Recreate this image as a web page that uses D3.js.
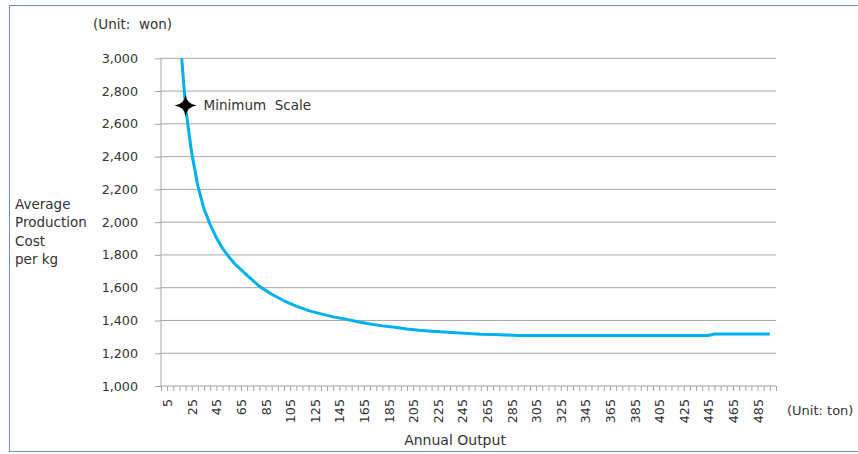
<!DOCTYPE html>
<html>
<head>
<meta charset="utf-8">
<script src="https://cdn.jsdelivr.net/npm/d3@7"></script>
<style>
  body { margin: 0; background: #fff; }
  text { font-family: "DejaVu Sans", sans-serif; fill: #333; }
  .axis path, .axis line { stroke: #a6a6a6; }
  .axis text { font-size: 12.7px; }
</style>
</head>
<body>
<div id="chart"></div>
<script>
// categories on the x axis (tons), labelled ticks and y ticks
var categories = [0,5,10,15,20,25,30,35,40,45,50,55,60,65,70,75,80,85,90,95,100,
    105,110,115,120,125,130,135,140,145,150,155,160,165,170,175,180,185,190,195,200,
    205,210,215,220,225,230,235,240,245,250,255,260,265,270,275,280,285,290,295,300,
    305,310,315,320,325,330,335,340,345,350,355,360,365,370,375,380,385,390,395,400,
    405,410,415,420,425,430,435,440,445,450,455,460,465,470,475,480,485,490,495,500];
var xLabels = [5,25,45,65,85,105,125,145,165,185,205,225,245,265,285,
    305,325,345,365,385,405,425,445,465,485];
var yTicks = [1000,1200,1400,1600,1800,2000,2200,2400,2600,2800,3000];

// average production cost per kg (won)
var outputTons = [15,20,25,30,35,40,45,50,55,60,70,80,90,100,110,120,130,140,150,
    160,170,180,190,200,210,220,230,240,250,260,270,280,290,445,450,495];
var costWon = [3170,2700,2420,2220,2080,1985,1905,1840,1790,1745,1675,1608,1560,1520,
    1488,1460,1440,1422,1408,1392,1378,1367,1358,1348,1340,1334,1330,1325,1321,1316,
    1314,1312,1308,1308,1317,1317];
var minimumScale = {ton: 20, cost: 2700};

var margin = {top: 58.3, left: 161},
    width = 615,
    height = 327.7;

var svg = d3.select("#chart").append("svg")
    .attr("width", 858)
    .attr("height", 454);

// outer frame
svg.append("rect")
    .attr("x", 9.5).attr("y", 5.5)
    .attr("width", 860).attr("height", 446)
    .attr("fill", "none")
    .attr("stroke", "#7089b8");

var g = svg.append("g")
    .attr("transform", "translate(" + margin.left + "," + margin.top + ")");

var x = d3.scalePoint()
    .domain(categories)
    .range([0, width]);

var y = d3.scaleLinear()
    .domain([1000, 3000])
    .range([height, 0]);

// gridlines
g.append("g").selectAll("line")
    .data(yTicks.slice(1))
    .enter().append("line")
    .attr("x1", 0).attr("x2", width)
    .attr("y1", function(d) { return y(d); })
    .attr("y2", function(d) { return y(d); })
    .attr("stroke", "#a6a6a6");

// y axis
g.append("g")
    .attr("class", "axis")
    .call(d3.axisLeft(y).tickValues(yTicks).tickSize(6).tickPadding(17)
        .tickFormat(d3.format(",")))
    .call(function(a) { a.select(".domain").attr("d", "M0,0V" + height); });

// x axis
var xAxis = g.append("g")
    .attr("class", "axis")
    .attr("transform", "translate(0," + height + ")")
    .call(d3.axisBottom(x).tickValues(categories).tickSize(5).tickSizeOuter(0)
        .tickFormat(function(d) { return xLabels.indexOf(d) >= 0 ? d : ""; }));

xAxis.select(".domain").attr("d", "M0,0H" + width);

xAxis.selectAll("text")
    .attr("transform", "rotate(-90)")
    .attr("x", -13)
    .attr("y", 0)
    .attr("dy", "0.35em")
    .attr("text-anchor", "end");

// clip the curve to the plot area
svg.append("clipPath").attr("id", "plot-clip")
    .append("rect")
    .attr("width", width).attr("height", height);

var line = d3.line()
    .x(function(d, i) { return x(d); })
    .y(function(d, i) { return y(costWon[i]); });

g.append("path")
    .datum(outputTons)
    .attr("clip-path", "url(#plot-clip)")
    .attr("fill", "none")
    .attr("stroke", "#00b0f0")
    .attr("stroke-width", 3)
    .attr("stroke-linejoin", "round")
    .attr("d", line);

// minimum scale marker
var mx = x(minimumScale.ton), my = y(minimumScale.cost) - 2;
g.append("path")
    .attr("transform", "translate(" + mx + "," + my + ")")
    .attr("d", "M0,-11Q1.2,-1.2 11,0Q1.2,1.2 0,11Q-1.2,1.2 -11,0Q-1.2,-1.2 0,-11Z")
    .attr("fill", "#000");

g.append("text")
    .attr("x", mx + 18)
    .attr("y", my)
    .attr("dy", "0.35em")
    .style("font-size", "13.5px")
    .style("white-space", "pre")
    .text("Minimum  Scale");

// unit labels and titles
svg.append("text")
    .attr("x", 93).attr("y", 24)
    .attr("dy", "0.35em")
    .style("font-size", "13.5px")
    .style("white-space", "pre")
    .text("(Unit:  won)");

svg.append("text")
    .attr("x", 787).attr("y", 410)
    .attr("dy", "0.35em")
    .style("font-size", "13px")
    .text("(Unit: ton)");

svg.append("text")
    .attr("x", 455).attr("y", 440)
    .attr("dy", "0.35em")
    .attr("text-anchor", "middle")
    .style("font-size", "14px")
    .text("Annual Output");

svg.append("g").selectAll("text")
    .data(["Average", "Production", "Cost", "per kg"])
    .enter().append("text")
    .attr("x", 15)
    .attr("y", function(d, i) { return 204 + i * 18.5; })
    .attr("dy", "0.35em")
    .style("font-size", "13.5px")
    .text(function(d) { return d; });
</script>
</body>
</html>
